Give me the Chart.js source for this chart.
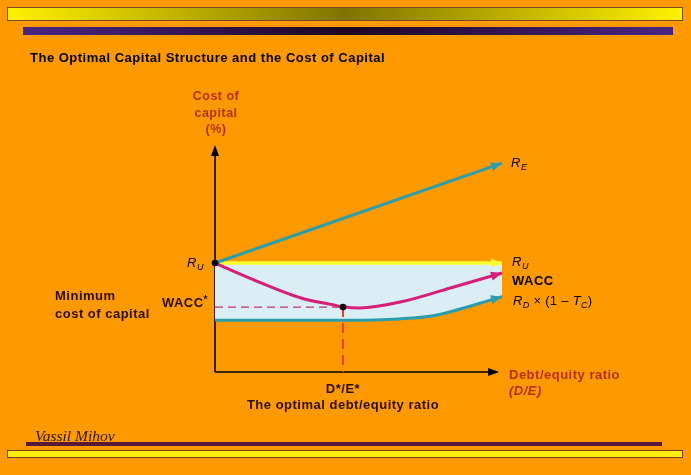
<!DOCTYPE html>
<html><head><meta charset="utf-8">
<script src="https://cdn.jsdelivr.net/npm/chart.js@4"></script>
<style>html,body{margin:0;padding:0;background:#ff9900;overflow:hidden}#wrap{width:691px;height:475px;position:relative}</style>
</head><body><div id="wrap"><canvas id="c"></canvas></div>
<script>
// ---- text ----
const titleText = "The Optimal Capital Structure and the Cost of Capital";
const yAxisLabel = ["Cost of", "capital", "(%)"];
const xAxisLabel = ["Debt/equity ratio", "(D/E)"];
const optimumLabel = ["D*/E*", "The optimal debt/equity ratio"];
const minLabel = ["Minimum", "cost of capital"];
const authorText = "Vassil Mihov";

// ---- data (debt/equity ratio vs cost of capital, %) ----
const deRE = [0, 10];
const costRE = [12, 23];
const deRU = [0, 10];
const costRU = [12, 12];
const deWACC = [0, 1.2, 3.0, 4.1, 4.46, 5.05, 6.45, 8.2, 10];
const costWACC = [12, 10.35, 8.15, 7.4, 7.18, 7.05, 7.7, 9.25, 10.9];
const deRD = [0, 4.7, 6.4, 7.6, 10];
const costRD = [5.7, 5.7, 5.85, 6.2, 8.3];
const optimalDE = 4.46;
const minWACC = 7.15;
const xRange = [0, 10];
const yRange = [0, 25];

const pts = (xs, ys) => xs.map((x, i) => ({x, y: ys[i]}));

const TEAL = '#2b9eae', MAGENTA = '#d61f78', YELLOW = '#ffff30', DARKRED = '#b43018', INK = '#2a0d10';

function rich(ctx, parts, x, y, align) {
  let w = 0;
  parts.forEach(p => { ctx.font = p[1]; w += ctx.measureText(p[0]).width; });
  let cx = align === 'center' ? x - w / 2 : (align === 'right' ? x - w : x);
  ctx.textAlign = 'left';
  parts.forEach(p => { ctx.font = p[1]; ctx.fillText(p[0], cx, y + (p[2] || 0)); cx += ctx.measureText(p[0]).width; });
}

const deco = {
  id: 'deco',
  beforeDraw(chart) {
    const ctx = chart.ctx;
    ctx.save();
    ctx.fillStyle = '#ff9900';
    ctx.fillRect(0, 0, chart.width, chart.height);
    let g = ctx.createLinearGradient(7, 0, 683, 0);
    g.addColorStop(0, '#fff200'); g.addColorStop(0.5, '#807400'); g.addColorStop(1, '#fff200');
    ctx.fillStyle = g; ctx.fillRect(7.5, 7.5, 675, 13);
    ctx.strokeStyle = '#7a4a20'; ctx.lineWidth = 1; ctx.strokeRect(7.5, 7.5, 675, 13);
    g = ctx.createLinearGradient(23, 0, 673, 0);
    g.addColorStop(0, '#4a2585'); g.addColorStop(0.5, '#1c0622'); g.addColorStop(1, '#4a2585');
    ctx.fillStyle = g; ctx.fillRect(23, 27, 650, 8);
    ctx.fillStyle = '#5a1838'; ctx.fillRect(26, 442, 636, 4);
    ctx.fillStyle = '#ffee10'; ctx.fillRect(7.5, 450.5, 675, 7);
    ctx.strokeStyle = '#7a3a20'; ctx.strokeRect(7.5, 450.5, 675, 7);
    ctx.fillStyle = '#000';
    ctx.textBaseline = 'middle';
    ctx.letterSpacing = '0.5px';
    ctx.font = 'bold 13px "Liberation Sans", Arial, sans-serif';
    ctx.fillText(titleText, 30, 58);
    ctx.letterSpacing = '0px';
    ctx.fillStyle = '#2a1430';
    ctx.font = 'italic 15.5px "Liberation Serif", "DejaVu Serif", serif';
    ctx.textBaseline = 'alphabetic';
    ctx.fillText(authorText, 35, 441);
    const xs = chart.scales.x, ys = chart.scales.y;
    const ox = xs.getPixelForValue(0), oy = ys.getPixelForValue(0);
    const top = ys.getPixelForValue(yRange[1]);
    const right = xs.getPixelForValue(9.9);
    ctx.strokeStyle = '#000'; ctx.fillStyle = '#000'; ctx.lineWidth = 1.6;
    ctx.beginPath(); ctx.moveTo(ox, oy); ctx.lineTo(ox, top + 8); ctx.stroke();
    ctx.beginPath(); ctx.moveTo(ox, oy); ctx.lineTo(right - 8, oy); ctx.stroke();
    ctx.beginPath(); ctx.moveTo(ox, top); ctx.lineTo(ox - 4, top + 11); ctx.lineTo(ox + 4, top + 11); ctx.closePath(); ctx.fill();
    ctx.beginPath(); ctx.moveTo(right, oy); ctx.lineTo(right - 11, oy - 4); ctx.lineTo(right - 11, oy + 4); ctx.closePath(); ctx.fill();
    ctx.restore();
  },
  afterDatasetsDraw(chart) {
    const ctx = chart.ctx;
    ctx.save();
    chart.data.datasets.forEach((ds, i) => {
      if (!ds.arrow) return;
      const d = chart.getDatasetMeta(i).data;
      const last = d[d.length - 1];
      let px = last.cp1x, py = last.cp1y;
      if (px === undefined || Math.hypot(last.x - px, last.y - py) < 1) { px = d[d.length - 2].x; py = d[d.length - 2].y; }
      const a = Math.atan2(last.y - py, last.x - px);
      const L = 11, W = 4.5;
      ctx.fillStyle = ds.borderColor;
      ctx.beginPath();
      ctx.moveTo(last.x, last.y);
      ctx.lineTo(last.x - L * Math.cos(a) + W * Math.sin(a), last.y - L * Math.sin(a) - W * Math.cos(a));
      ctx.lineTo(last.x - L * Math.cos(a) - W * Math.sin(a), last.y - L * Math.sin(a) + W * Math.cos(a));
      ctx.closePath(); ctx.fill();
    });
    const xs = chart.scales.x, ys = chart.scales.y;
    const ox = xs.getPixelForValue(0);
    const SANS = '"Liberation Sans", Arial, sans-serif';
    ctx.textBaseline = 'middle';
    ctx.letterSpacing = '0.5px';
    ctx.fillStyle = DARKRED; ctx.textAlign = 'center';
    ctx.font = 'bold 12.5px ' + SANS;
    yAxisLabel.forEach((t, k) => ctx.fillText(t, ox + 1, 97 + k * 16.5));
    ctx.textAlign = 'left';
    ctx.font = 'bold 13px ' + SANS;
    ctx.fillText(xAxisLabel[0], 509, 375);
    ctx.font = 'italic bold 13px ' + SANS;
    ctx.fillText(xAxisLabel[1], 509, 391);
    ctx.fillStyle = INK; ctx.textAlign = 'center';
    ctx.font = 'bold 13px ' + SANS;
    const xo = xs.getPixelForValue(optimalDE);
    ctx.fillText(optimumLabel[0], xo, 389);
    ctx.fillText(optimumLabel[1], xo, 405);
    ctx.textAlign = 'left';
    ctx.font = 'bold 13px ' + SANS;
    ctx.fillText(minLabel[0], 55, 296);
    ctx.fillText(minLabel[1], 55, 314);
    const yw = ys.getPixelForValue(minWACC);
    rich(ctx, [['WACC', 'bold 13px ' + SANS, 0], ['*', 'bold 10px ' + SANS, -3]], 208, yw - 4, 'right');
    ctx.fillStyle = '#000';
    const RU = ys.getPixelForValue(costRU[0]);
    const it = 'italic 13px ' + SANS, sub = 'italic 9px ' + SANS;
    rich(ctx, [['R', it, 0], ['U', sub, 4]], 204, RU, 'right');
    rich(ctx, [['R', it, 0], ['E', sub, 4]], 511, ys.getPixelForValue(costRE[1]), 'left');
    rich(ctx, [['R', it, 0], ['U', sub, 4]], 512, 262, 'left');
    ctx.font = 'bold 13px ' + SANS; ctx.textAlign = 'left';
    ctx.fillText('WACC', 512, 281);
    ctx.letterSpacing = '0.3px';
    rich(ctx, [['R', it, 0], ['D', sub, 4], [' \u00d7 (1 \u2013 ', '13px ' + SANS, 0], ['T', it, 0], ['C', sub, 4], [')', '13px ' + SANS, 0]], 513, 301, 'left');
    ctx.restore();
  }
};

new Chart(document.getElementById('c'), {
  type: 'line',
  data: {
    datasets: [
      { label: 'points', data: [{x: 0, y: costRU[0]}, {x: optimalDE, y: minWACC}], showLine: false,
        pointRadius: 3.3, pointBackgroundColor: '#000', pointBorderWidth: 0 },
      { label: 'WACC', data: pts(deWACC, costWACC), borderColor: MAGENTA, borderWidth: 3, pointRadius: 0,
        cubicInterpolationMode: 'monotone', arrow: true, fill: false },
      { label: 'RE', data: pts(deRE, costRE), borderColor: TEAL, borderWidth: 3, pointRadius: 0, arrow: true, fill: false },
      { label: 'RD(1-Tc)', data: pts(deRD, costRD), borderColor: TEAL, borderWidth: 3, pointRadius: 0,
        cubicInterpolationMode: 'monotone', arrow: true, fill: {target: 4}, backgroundColor: '#dbeef6' },
      { label: 'RU', data: pts(deRU, costRU), borderColor: YELLOW, borderWidth: 3.5, pointRadius: 0, arrow: true, fill: false },
      { label: 'hdash', data: [{x: 0, y: minWACC}, {x: optimalDE, y: minWACC}], borderColor: '#c2306e', borderWidth: 1.2,
        borderDash: [8, 5], pointRadius: 0, fill: false },
      { label: 'vdash', data: [{x: optimalDE, y: minWACC}, {x: optimalDE, y: 0}], borderColor: '#e8402a', borderWidth: 2,
        borderDash: [10, 6], pointRadius: 0, fill: false }
    ]
  },
  options: {
    responsive: true, maintainAspectRatio: false, animation: false,
    devicePixelRatio: 1,
    layout: { padding: { left: 215, right: 189, top: 145, bottom: 103 } },
    scales: {
      x: { type: 'linear', min: xRange[0], max: xRange[1], display: false },
      y: { type: 'linear', min: yRange[0], max: yRange[1], display: false }
    },
    elements: { line: { tension: 0 } },
    datasets: { line: { clip: false } },
    plugins: { legend: { display: false }, tooltip: { enabled: false }, filler: { drawTime: 'beforeDatasetsDraw' } }
  },
  plugins: [deco]
});
</script></body></html>
